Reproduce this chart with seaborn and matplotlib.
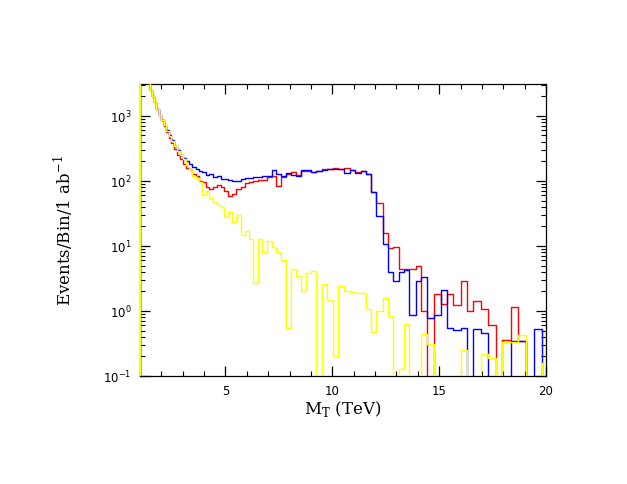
import numpy as np
import pandas as pd
import matplotlib
matplotlib.use("Agg")
import matplotlib.pyplot as plt
import seaborn as sns
from matplotlib.ticker import MultipleLocator, LogLocator, LogFormatterSciNotation, NullFormatter

# ---- data: bin edges (TeV) and events per bin for 1 ab^-1 ----
bin_edges = [0.9, 1.0, 1.083, 1.170, 1.260, 1.353, 1.450, 1.550, 1.654, 1.760, 1.870,
             1.984, 2.100, 2.221, 2.344, 2.471, 2.601, 2.734, 2.871, 3.011, 3.155,
             3.301, 3.451, 3.605, 3.762, 3.922, 4.085, 4.252, 4.422, 4.596, 4.772,
             4.953, 5.136, 5.323, 5.513, 5.707, 5.904, 6.104, 6.307, 6.514, 6.724,
             6.938, 7.155, 7.375, 7.598, 7.825, 8.055, 8.289, 8.526, 8.766, 9.010,
             9.257, 9.507, 9.761, 10.017, 10.278, 10.541, 10.808, 11.078, 11.33, 11.57,
             11.8, 12.05, 12.35, 12.6, 12.85, 13.1, 13.36, 13.6, 13.91, 14.15,
             14.45, 14.77, 15.08, 15.36, 15.67, 16.01, 16.29, 16.59, 16.95, 17.3,
             17.65, 17.96, 18.35, 18.7, 19.08, 19.44, 19.8, 20.15]

red_counts = [0,
              8000, 6500, 5200, 4100, 3200, 2500, 2000, 1650, 1300, 1050, 860, 700, 570, 460,
              390, 310, 255, 215, 185, 160, 150, 128, 118, 100, 95, 82, 75,
              80, 86, 80, 71, 58, 62, 76, 82, 92, 96,
              100, 104, 105, 113, 120, 85, 115, 130, 138, 125,
              140, 144, 138, 142, 150, 153, 156, 150, 156, 148,
              138, 140, 128, 68, 46, 16, 9.3, 9.5, 4.5, 4.5,
              4.5, 5.0, 1.0, 0, 1.8, 1.3, 1.8, 1.25, 2.9, 1.0,
              1.41, 1.07, 0.61, 0, 0.36, 1.16, 0.35, 0, 0, 0]

blue_counts = [0,
               8000, 6500, 5200, 4100, 3200, 2500, 2000, 1650, 1300, 1050, 880, 730, 610, 510,
               420, 350, 300, 255, 225, 200, 180, 165, 150, 140, 135, 122, 128,
               115, 118, 107, 107, 105, 101, 100, 107, 112, 110,
               115, 113, 121, 118, 147, 128, 121, 133, 125, 121,
               147, 145, 138, 142, 147, 150, 153, 150, 133, 147,
               133, 142, 128, 68, 29, 10.7, 4.0, 2.9, 4.0, 4.3,
               0.87, 2.9, 3.3, 0.77, 0.87, 2.1, 0.54, 0.51, 0.54, 0,
               0.53, 0.46, 0, 0, 0, 0.35, 0.35, 0, 0.53, 0]

yellow_counts = [0,
                 8000, 6500, 5200, 4100, 3200, 2500, 2000, 1650, 1300, 1050, 870, 715, 590, 490,
                 410, 340, 290, 250, 215, 175, 150, 120, 110, 95, 60, 70, 55,
                 48, 42, 40, 28, 33, 23, 30, 15, 17, 13,
                 2.7, 13, 8, 12, 9.6, 8, 6.1, 0.55, 4.5, 3.5,
                 2.0, 3.8, 4.1, 0, 2.6, 1.5, 0.2, 2.4, 2.0, 1.95,
                 1.9, 1.9, 1.07, 0.47, 1.0, 1.6, 0.84, 0, 0.13, 0.62,
                 0, 0, 0.44, 0.31, 0, 0, 0, 0, 0.25, 0,
                 0, 0.22, 0.19, 0, 0.33, 0.33, 0.43, 0, 0, 0.16]

series = [("red", red_counts, "#ff0000"),
          ("blue", blue_counts, "#0000ff"),
          ("yellow", yellow_counts, "#ffff00")]

x_label = r"M$_{\mathdefault{T}}$ (TeV)"
y_label = r"Events/Bin/1 ab$^{\mathdefault{-1}}$"

# ---- plot ----
sns.set_style("ticks")
plt.rcParams["font.family"] = ["DejaVu Serif"]
plt.rcParams["text.color"] = "black"
plt.rcParams["axes.labelcolor"] = "black"
plt.rcParams["xtick.color"] = "black"
plt.rcParams["ytick.color"] = "black"

fig = plt.figure(figsize=(6.27, 4.85), dpi=100)
ax = fig.add_axes([0.2233, 0.2227, 0.6475, 0.6021])

edges = np.asarray(bin_edges, dtype=float)
centers = 0.5 * (edges[:-1] + edges[1:])
for name, counts, color in series:
    df = pd.DataFrame({"mt": centers, "w": np.asarray(counts, dtype=float)})
    sns.histplot(data=df, x="mt", weights="w", bins=list(bin_edges), element="step",
                 fill=False, color=color, linewidth=1.0, ax=ax, zorder=3)

ax.set_yscale("log")
ax.set_xlim(1, 20)
ax.set_ylim(0.1, 3100)

ax.xaxis.set_major_locator(MultipleLocator(5))
ax.xaxis.set_minor_locator(MultipleLocator(1))
ax.yaxis.set_major_locator(LogLocator(base=10))
ax.yaxis.set_minor_locator(LogLocator(base=10, subs=np.arange(2, 10)))
ax.yaxis.set_major_formatter(LogFormatterSciNotation())
ax.yaxis.set_minor_formatter(NullFormatter())

ax.tick_params(which="both", direction="in", top=True, right=True,
               color="black", labelcolor="black")
ax.tick_params(which="major", length=7, width=0.9, pad=6, labelsize=8.5)
ax.tick_params(which="minor", length=3.5, width=0.8)
for lab in ax.get_xticklabels() + ax.get_yticklabels():
    lab.set_family("DejaVu Sans")

for sp in ax.spines.values():
    sp.set_color("black")
    sp.set_linewidth(0.9)

ax.set_xlabel(x_label, fontsize=12, color="black")
ax.set_ylabel(y_label, fontsize=12, color="black")
ax.xaxis.set_label_coords(0.5, -0.075)
ax.yaxis.set_label_coords(-0.16, 0.5)

fig.savefig("out.png", dpi=100)
